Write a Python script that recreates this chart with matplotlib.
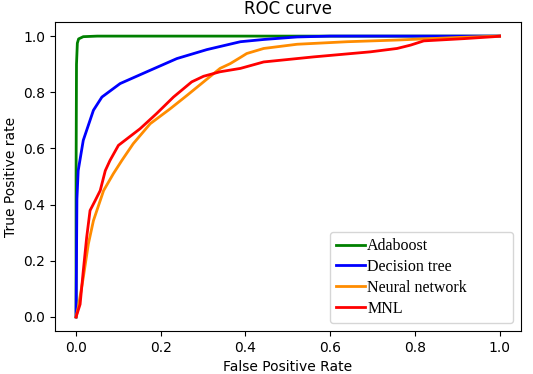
import numpy as np
import matplotlib
matplotlib.use('Agg')
import matplotlib.pyplot as plt

#%% ROC points
fpr_ada = [0.0, 0.0, 0.001, 0.003, 0.006, 0.017, 0.05, 0.2, 0.5, 1.0]
tpr_ada = [0.0, 0.5, 0.9, 0.975, 0.99, 0.998, 1.0, 1.0, 1.0, 1.0]

fpr_tree = [0.0, 0.002, 0.005, 0.017, 0.041, 0.061, 0.104, 0.167, 0.238,
            0.309, 0.388, 0.443, 0.522, 0.6, 0.8, 1.0]
tpr_tree = [0.0, 0.42, 0.521, 0.629, 0.736, 0.783, 0.831, 0.873, 0.92,
            0.952, 0.98, 0.988, 0.997, 1.0, 1.0, 1.0]

fpr_nn = [0.0, 0.005, 0.017, 0.029, 0.041, 0.065, 0.088, 0.108, 0.135,
          0.175, 0.222, 0.262, 0.301, 0.34, 0.364, 0.388, 0.403, 0.443,
          0.522, 0.64, 0.758, 0.82, 0.9, 1.0]
tpr_nn = [0.0, 0.033, 0.14, 0.26, 0.343, 0.45, 0.51, 0.557, 0.617,
          0.688, 0.741, 0.789, 0.837, 0.885, 0.902, 0.924, 0.938, 0.956,
          0.971, 0.98, 0.986, 0.99, 0.995, 1.0]

fpr_mnl = [0.0, 0.0095, 0.017, 0.025, 0.033, 0.045, 0.057, 0.069, 0.08,
           0.1, 0.151, 0.19, 0.23, 0.273, 0.301, 0.34, 0.364, 0.388,
           0.443, 0.561, 0.695, 0.758, 0.79, 0.821, 0.916, 0.987, 1.0]
tpr_mnl = [0.0, 0.045, 0.164, 0.283, 0.379, 0.414, 0.45, 0.521, 0.557,
           0.611, 0.67, 0.724, 0.783, 0.837, 0.857, 0.873, 0.879, 0.885,
           0.908, 0.926, 0.944, 0.956, 0.968, 0.983, 0.991, 0.998, 1.0]

plt.figure(figsize=(5.33, 3.74), dpi=100)
plt.plot(fpr_ada, tpr_ada, color='green', lw=2, label='Adaboost')
plt.plot(fpr_tree, tpr_tree, color='blue', lw=2, label='Decision tree')
plt.plot(fpr_nn, tpr_nn, color='darkorange', lw=2, label='Neural network')
plt.plot(fpr_mnl, tpr_mnl, color='red', lw=2, label='MNL')
plt.xlabel('False Positive Rate')
plt.ylabel('True Positive rate')
plt.title('ROC curve')
plt.legend(loc='lower left', bbox_to_anchor=(0.59, 0.026, 0.393, 0.285),
           mode='expand', borderaxespad=0,
           prop={'family': 'Liberation Serif', 'size': 11.5},
           handlelength=1.8, handletextpad=0.15, labelspacing=0.3)
plt.subplots_adjust(left=0.103, right=0.977, top=0.941, bottom=0.115)
plt.savefig('out.png', dpi=100)
